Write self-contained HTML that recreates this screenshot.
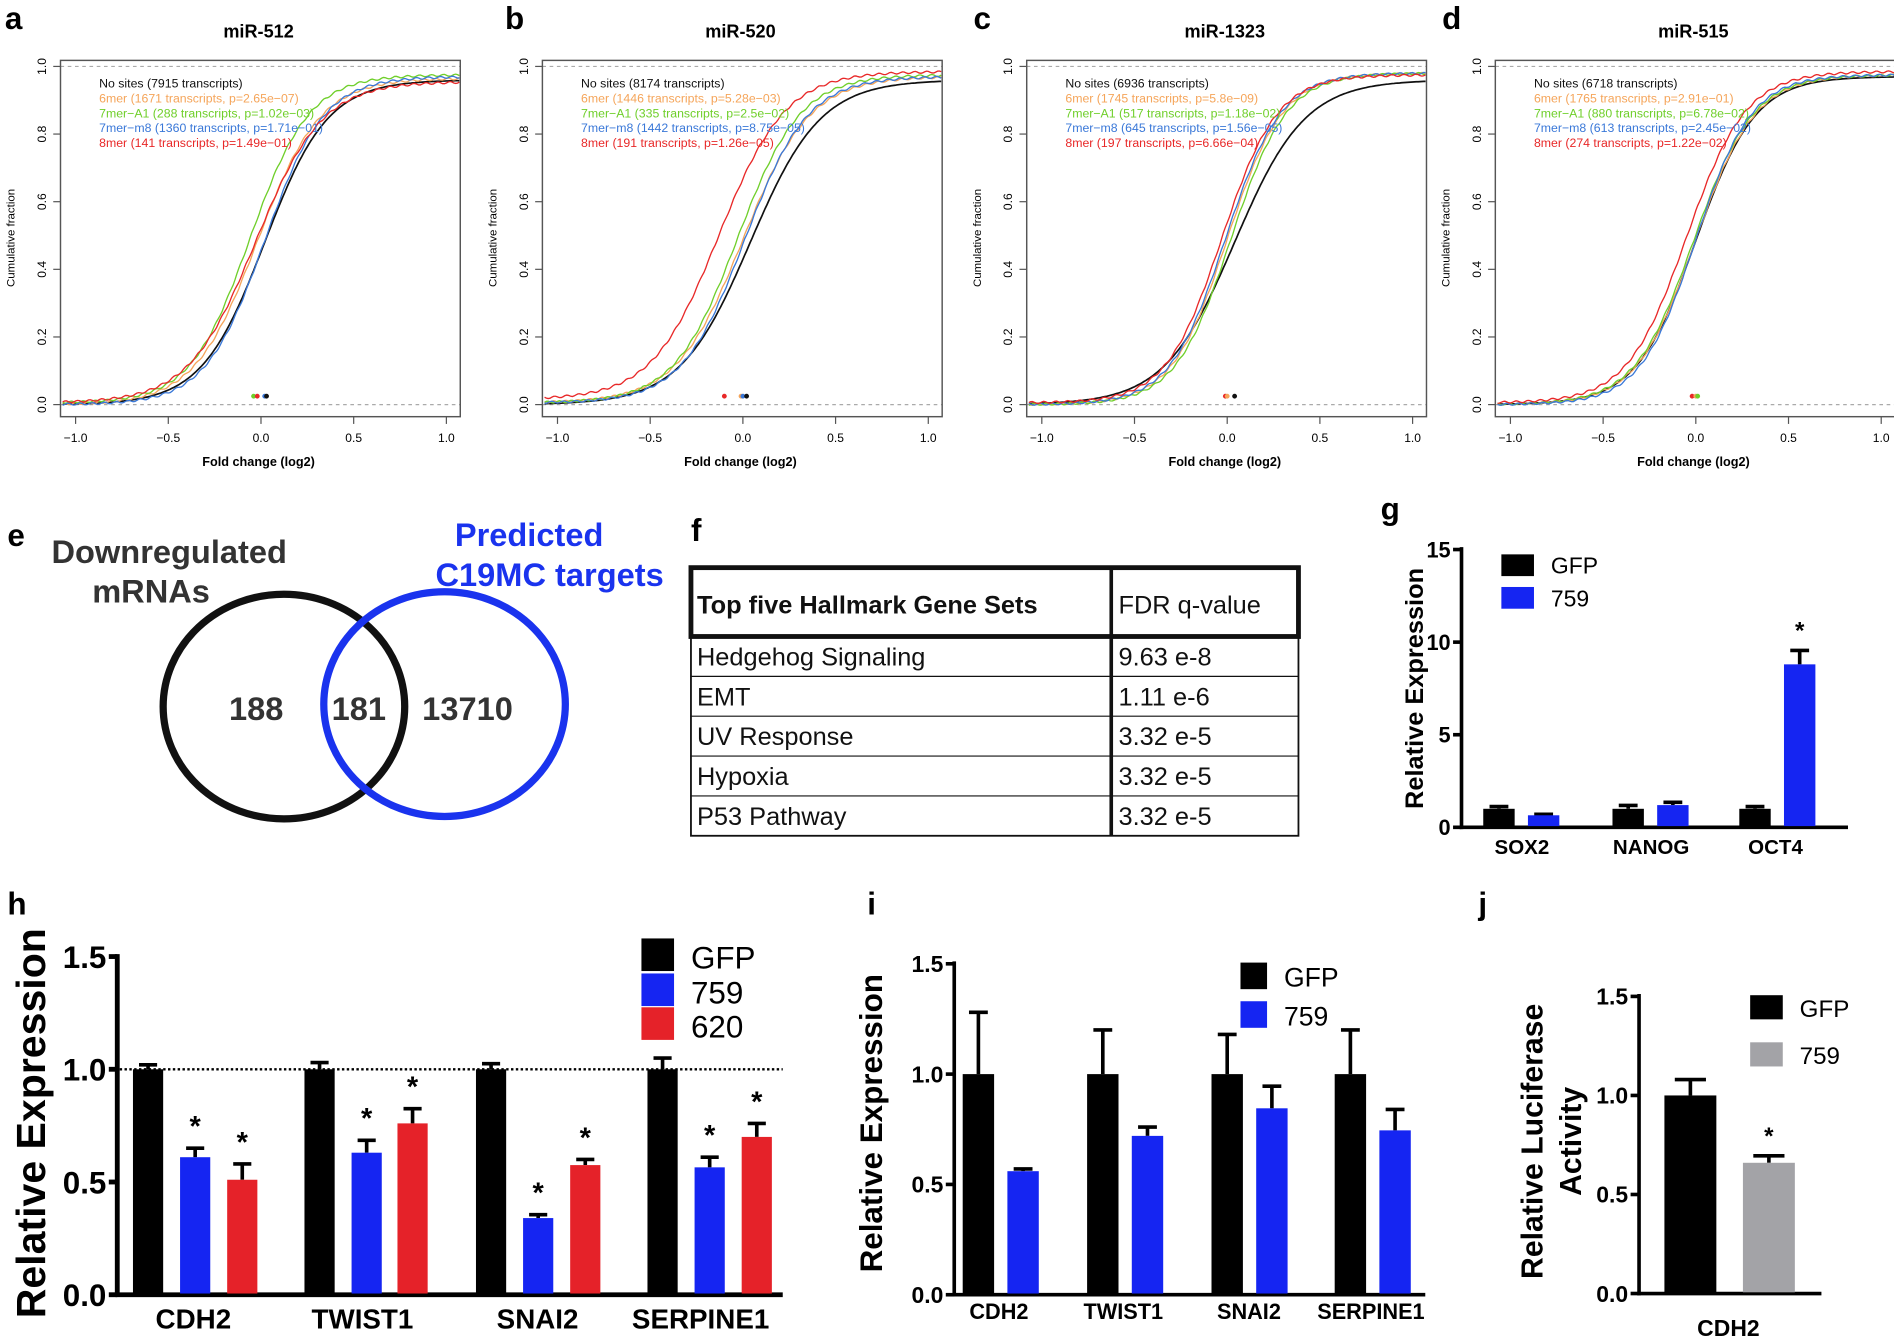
<!DOCTYPE html>
<html><head><meta charset="utf-8"><style>
html,body{margin:0;padding:0;background:#fff;}
svg{display:block;font-family:"Liberation Sans",Arial,sans-serif;}
</style></head><body>
<svg id="s" width="1894" height="1337" viewBox="0 0 1568 1107" xmlns="http://www.w3.org/2000/svg">
<rect width="1568" height="1107" fill="#fff"/>
<g font-size="26" font-weight="bold">
<text x="4" y="24">a</text><text x="418" y="24">b</text><text x="806" y="24">c</text><text x="1194" y="24">d</text>
<text x="6" y="452">e</text><text x="572" y="448">f</text><text x="1143" y="430">g</text>
<text x="6" y="757">h</text><text x="718" y="757">i</text><text x="1224" y="757">j</text>
</g>
<g id="cdf"></g>

<ellipse cx="235" cy="585" rx="100" ry="93" fill="none" stroke="#111" stroke-width="6"/>
<ellipse cx="368" cy="583" rx="100" ry="93" fill="none" stroke="#1a33ee" stroke-width="6"/>
<g font-weight="bold" font-size="27" fill="#333" text-anchor="middle">
<text x="212" y="596">188</text><text x="297" y="596">181</text><text x="387" y="596">13710</text>
<text x="140" y="466">Downregulated</text><text x="125" y="499">mRNAs</text>
<text x="438" y="452" fill="#1a33ee">Predicted</text><text x="455" y="485" fill="#1a33ee">C19MC targets</text>
</g>

<g stroke="#111" fill="none">
<rect x="572" y="470" width="503" height="222" stroke-width="1.5"/>
<rect x="572" y="470" width="503" height="57" stroke-width="4"/>
<line x1="920" y1="470" x2="920" y2="692" stroke-width="3"/>
<line x1="572" y1="560" x2="1075" y2="560"/><line x1="572" y1="593" x2="1075" y2="593"/>
<line x1="572" y1="626" x2="1075" y2="626"/><line x1="572" y1="659" x2="1075" y2="659"/>
</g>
<g font-size="21" fill="#111">
<text x="577" y="508" font-weight="bold">Top five Hallmark Gene Sets</text><text x="926" y="508">FDR q-value</text>
<text x="577" y="551">Hedgehog Signaling</text><text x="926" y="551">9.63 e-8</text>
<text x="577" y="584">EMT</text><text x="926" y="584">1.11 e-6</text>
<text x="577" y="617">UV Response</text><text x="926" y="617">3.32 e-5</text>
<text x="577" y="650">Hypoxia</text><text x="926" y="650">3.32 e-5</text>
<text x="577" y="683">P53 Pathway</text><text x="926" y="683">3.32 e-5</text>
</g>
<g id="bars"></g>
<script>
(function(){
var NS="http://www.w3.org/2000/svg";
function el(p,tag,a,txt){var e=document.createElementNS(NS,tag);for(var k in a)e.setAttribute(k,a[k]);if(txt!=null)e.textContent=txt;p.appendChild(e);return e;}
var g=document.getElementById('cdf');
var cols={k:'#111',o:'#f5a55a',g:'#6fcf2a',b:'#3a78d8',r:'#e82828'};
var panels=[
 {dx:0,t:'miR-512',leg:['No sites (7915 transcripts)','6mer (1671 transcripts, p=2.65e\u221207)','7mer\u2212A1 (288 transcripts, p=1.02e\u221203)','7mer\u2212m8 (1360 transcripts, p=1.71e\u221201)','8mer (141 transcripts, p=1.49e\u221201)'],
  c:{k:[0.02,.17,.0,.96],o:[-0.02,.17,.0,.965],g:[-0.06,.16,.005,.975],b:[0.02,.16,.0,.97],r:[-0.03,.18,.005,.955]},dots:[['g',-0.04],['r',-0.02],['b',0.02],['k',0.03]]},
 {dx:399,t:'miR-520',leg:['No sites (8174 transcripts)','6mer (1446 transcripts, p=5.28e\u221203)','7mer\u2212A1 (335 transcripts, p=2.5e\u221202)','7mer\u2212m8 (1442 transcripts, p=8.75e\u221205)','8mer (191 transcripts, p=1.26e\u221205)'],
  c:{k:[0.04,.19,.0,.96],o:[0.0,.18,.005,.97],g:[-0.03,.17,.005,.975],b:[0.01,.17,.005,.97],r:[-0.13,.18,.015,.985]},dots:[['r',-0.1],['o',-0.01],['b',0.0],['k',0.02]]},
 {dx:800,t:'miR-1323',leg:['No sites (6936 transcripts)','6mer (1745 transcripts, p=5.8e\u221209)','7mer\u2212A1 (517 transcripts, p=1.18e\u221202)','7mer\u2212m8 (645 transcripts, p=1.56e\u221205)','8mer (197 transcripts, p=6.66e\u221204)'],
  c:{k:[0.04,.19,.0,.96],o:[0.0,.15,.0,.98],g:[0.02,.15,.0,.98],b:[-0.01,.15,.0,.98],r:[-0.03,.15,.005,.975]},dots:[['r',-0.01],['o',0.0],['k',0.04]]},
 {dx:1188,t:'miR-515',leg:['No sites (6718 transcripts)','6mer (1765 transcripts, p=2.91e\u221201)','7mer\u2212A1 (880 transcripts, p=6.78e\u221202)','7mer\u2212m8 (613 transcripts, p=2.45e\u221202)','8mer (274 transcripts, p=1.22e\u221202)'],
  c:{k:[0.0,.16,.0,.97],o:[0.0,.16,.0,.975],g:[-0.01,.16,.0,.975],b:[0.0,.15,.0,.975],r:[-0.05,.16,.005,.985]},dots:[['r',-0.02],['o',0],['g',0.01]]}
];
var order=['k','o','g','b','r'];
panels.forEach(function(P){
 var d=P.dx;
 var X=function(f){return d+216+153.5*f;},Y=function(v){return 335-280*v;};
 el(g,'text',{x:d+214,y:31,'font-size':15,'font-weight':'bold','text-anchor':'middle'},P.t);
 el(g,'line',{x1:d+50,y1:Y(1),x2:d+381,y2:Y(1),stroke:'#aaa','stroke-dasharray':'3,3'});
 el(g,'line',{x1:d+50,y1:Y(0),x2:d+381,y2:Y(0),stroke:'#aaa','stroke-dasharray':'3,3'});
 order.forEach(function(k){
  var c=P.c[k],pts=[];
  for(var f=-1.07;f<=1.071;f+=0.01){var v=c[2]+(c[3]-c[2])/(1+Math.exp(-(f-c[0])/c[1]));
   v+= (k!='k')?Math.sin(f*97+c[0]*100)*0.003:0;
   pts.push(X(f).toFixed(1)+','+Y(v).toFixed(1));}
  el(g,'polyline',{points:pts.join(' '),fill:'none',stroke:cols[k],'stroke-width':k=='k'?1.4:1.1});
 });
 P.dots.forEach(function(q){el(g,'circle',{cx:X(q[1]),cy:Y(0.025),r:2,fill:cols[q[0]]});});
 el(g,'rect',{x:d+50,y:50,width:331,height:295,fill:'none',stroke:'#555','stroke-width':1.2});
 [-1,-0.5,0,0.5,1].forEach(function(f,i){el(g,'line',{x1:X(f),y1:345,x2:X(f),y2:351,stroke:'#555'});
  el(g,'text',{x:X(f),y:366,'font-size':10,'text-anchor':'middle'},['\u22121.0','\u22120.5','0.0','0.5','1.0'][i]);});
 [0,.2,.4,.6,.8,1].forEach(function(v){el(g,'line',{x1:d+44,y1:Y(v),x2:d+50,y2:Y(v),stroke:'#555'});
  el(g,'text',{x:d+38,y:Y(v),'font-size':10,'text-anchor':'middle',transform:'rotate(-90 '+(d+38)+' '+Y(v)+')'},v.toFixed(1));});
 el(g,'text',{x:d+12,y:197,'font-size':9.5,'text-anchor':'middle',transform:'rotate(-90 '+(d+12)+' 197)'},'Cumulative fraction');
 el(g,'text',{x:d+214,y:386,'font-size':10.5,'font-weight':'bold','text-anchor':'middle'},'Fold change (log2)');
 P.leg.forEach(function(t,i){el(g,'text',{x:d+82,y:72.5+i*12.3,'font-size':10.2,fill:cols[order[i]]},t);});
});

var B=document.getElementById('bars');
function axis(o){
 var Y=function(v){return o.y0-(o.y0-o.ytop)*v/o.max;};
 el(B,'line',{x1:o.ax,y1:o.ytop-2,x2:o.ax,y2:o.y0+1.5,stroke:'#000','stroke-width':o.lw});
 el(B,'line',{x1:o.ax-1.5,y1:o.y0,x2:o.xend,y2:o.y0,stroke:'#000','stroke-width':o.lw});
 o.ticks.forEach(function(v){el(B,'line',{x1:o.ax-7,y1:Y(v),x2:o.ax,y2:Y(v),stroke:'#000','stroke-width':o.lw});
  el(B,'text',{x:o.ax-9,y:Y(v)+o.tf*0.36,'font-size':o.tf,'font-weight':'bold','text-anchor':'end'},o.tl(v));});
 o.bars.forEach(function(b){
  var top=Y(b[2]);
  if(b[3]){var e=Y(b[2]+b[3]),cx=b[0]+b[1]/2;el(B,'line',{x1:cx,y1:top,x2:cx,y2:e,stroke:'#000','stroke-width':3});
   el(B,'line',{x1:cx-b[1]*0.3,y1:e,x2:cx+b[1]*0.3,y2:e,stroke:'#000','stroke-width':3});}
  el(B,'rect',{x:b[0],y:top,width:b[1],height:o.y0-top-1,fill:b[4]});
  if(b[5])el(B,'text',{x:b[0]+b[1]/2,y:Y(b[2]+b[3])-10,'font-size':o.sf,'font-weight':'bold','text-anchor':'middle'},'*');
 });
 o.xl.forEach(function(l){el(B,'text',{x:l[0],y:o.xly,'font-size':o.xf,'font-weight':'bold','text-anchor':'middle'},l[1]);});
 el(B,'text',{x:o.ylx,y:o.yly,'font-size':o.yf,'font-weight':'bold','text-anchor':'middle',transform:'rotate(-90 '+o.ylx+' '+o.yly+')'},o.yl);
 o.leg.forEach(function(l){el(B,'rect',{x:l[0],y:l[1],width:l[2],height:l[3],fill:l[4]});el(B,'text',{x:l[0]+l[2]+14,y:l[1]+l[3]-2,'font-size':l[6]},l[5]);});
 return Y;
}
var K='#000',BL='#1525f2',R='#e52229',GR='#a3a3a7';
axis({ax:1210,y0:685,ytop:455,max:15,xend:1530,lw:3,ticks:[0,5,10,15],tl:function(v){return v;},tf:18,sf:20,
 bars:[[1228,26,1,0.12,K],[1265,26,0.65,0.05,BL],[1335,26,1,0.18,K],[1372,26,1.2,0.15,BL],[1440,26,1,0.12,K],[1477,26,8.8,0.75,BL,1]],
 xl:[[1260,'SOX2'],[1367,'NANOG'],[1470,'OCT4']],xly:707,xf:17,ylx:1178,yly:570,yf:21,yl:'Relative Expression',
 leg:[[1243,459,27,18,K,'GFP',19],[1243,486,27,18,BL,'759',19]]});
var Yh=axis({ax:97,y0:1072,ytop:792,max:1.5,xend:648,lw:4,ticks:[0,0.5,1,1.5],tl:function(v){return v.toFixed(1);},tf:26,sf:24,
 bars:[[110,25,1,0.02,K],[149,25,0.61,0.04,BL,1],[188,25,0.51,0.07,R,1],[252,25,1,0.03,K],[291,25,0.63,0.055,BL,1],[329,25,0.76,0.065,R,1],
       [394,25,1,0.025,K],[433,25,0.34,0.015,BL,1],[472,25,0.575,0.025,R,1],[536,25,1,0.05,K],[575,25,0.565,0.045,BL,1],[614,25,0.7,0.06,R,1]],
 xl:[[160,'CDH2'],[300,'TWIST1'],[445,'SNAI2'],[580,'SERPINE1']],xly:1100,xf:23,ylx:37,yly:930,yf:34,yl:'Relative Expression',
 leg:[[531,777,27,27,K,'GFP',26],[531,806,27,27,BL,'759',26],[531,834,27,27,R,'620',26]]});
el(B,'line',{x1:99,y1:Yh(1),x2:648,y2:Yh(1),stroke:'#000','stroke-width':2,'stroke-dasharray':'2,2'});
axis({ax:790,y0:1072,ytop:798,max:1.5,xend:1180,lw:3,ticks:[0,0.5,1,1.5],tl:function(v){return v.toFixed(1);},tf:19,sf:20,
 bars:[[797,26,1,0.28,K],[834,26,0.56,0.01,BL],[900,26,1,0.2,K],[937,26,0.72,0.04,BL],[1003,26,1,0.18,K],[1040,26,0.845,0.1,BL],[1105,26,1,0.2,K],[1142,26,0.745,0.095,BL]],
 xl:[[827,'CDH2'],[930,'TWIST1'],[1034,'SNAI2'],[1135,'SERPINE1']],xly:1092,xf:18,ylx:730,yly:930,yf:26,yl:'Relative Expression',
 leg:[[1027,797,22,22,K,'GFP',22],[1027,829,22,22,BL,'759',22]]});
axis({ax:1357,y0:1071,ytop:825,max:1.5,xend:1508,lw:3,ticks:[0,0.5,1,1.5],tl:function(v){return v.toFixed(1);},tf:19,sf:20,
 bars:[[1378,43,1,0.08,K],[1443,43,0.66,0.035,GR,1]],
 xl:[[1431,'CDH2']],xly:1106,xf:19,ylx:1277,yly:945,yf:25,yl:'Relative Luciferase',
 leg:[[1449,824,27,20,K,'GFP',20],[1449,863,27,20,GR,'759',20]]});
el(B,'text',{x:1309,y:945,'font-size':25,'font-weight':'bold','text-anchor':'middle',transform:'rotate(-90 1309 945)'},'Activity');
})();
</script>
</svg>
</body></html>
